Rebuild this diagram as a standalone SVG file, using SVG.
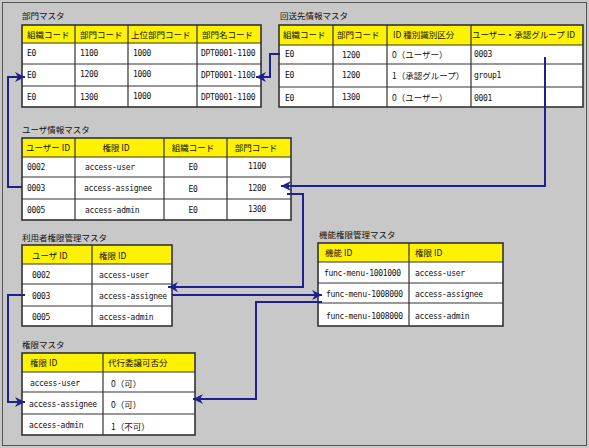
<svg xmlns="http://www.w3.org/2000/svg" width="589" height="448" viewBox="0 0 589 448">
<style>
.bg{fill:#C8C8C8}
.frame{fill:#C8C8C8;stroke:#555;stroke-width:1}
.hd{fill:#FFF200}
.cell{fill:#FFFFFF}
.grid{fill:none;stroke:#333;stroke-width:1.2}
.outer{fill:none;stroke:#333;stroke-width:1.6}
.t{font-family:"Noto Sans CJK JP","Noto Sans",sans-serif;font-size:8.5px;fill:#111}
.m{font-family:"DejaVu Sans Mono","Liberation Mono",monospace;font-size:8px;letter-spacing:-0.3px;fill:#111}
.c{text-anchor:middle}
.ttl{font-family:"Noto Sans CJK JP","Noto Sans",sans-serif;font-size:8.5px;fill:#111}
.conn{fill:none;stroke:#1F1F8F;stroke-width:2}
</style>
<defs>
<marker id="arr" markerUnits="userSpaceOnUse" markerWidth="10" markerHeight="10" viewBox="0 0 10 10" refX="10" refY="5" orient="auto">
<path d="M0,0 L10,5 L0,10 L3,5 z" fill="#1F1F8F"/>
</marker>
</defs>
<rect class="bg" x="0" y="0" width="589" height="448"/>
<rect class="frame" x="2.5" y="2.5" width="584" height="443"/>

<g id="bumon-master">
<text class="ttl" x="22" y="19">部門マスタ</text>
<rect class="hd" x="22" y="25" width="239" height="18"/>
<rect class="cell" x="22" y="43" width="239" height="64"/>
<path class="grid" d="M22,43H261M22,64H261M22,86H261M75,25V107M128,25V107M197,25V107"/>
<rect class="outer" x="22" y="25" width="239" height="82"/>
<text class="t" x="27" y="37.5">組織コード</text>
<text class="t" x="80" y="37.5">部門コード</text>
<text class="t" x="131" y="37.5">上位部門コード</text>
<text class="t" x="202" y="37.5">部門名コード</text>
<text class="m" x="27" y="56">E0</text><text class="m" x="80" y="56">1100</text><text class="m" x="133" y="56">1000</text><text class="m" x="201" y="56">DPT0001-1100</text>
<text class="m" x="27" y="78">E0</text><text class="m" x="80" y="77">1200</text><text class="m" x="133" y="77">1000</text><text class="m" x="201" y="78">DPT0001-1100</text>
<text class="m" x="27" y="100">E0</text><text class="m" x="80" y="100">1300</text><text class="m" x="133" y="99">1000</text><text class="m" x="201" y="100">DPT0001-1100</text>
</g>

<g id="kaisousaki-master">
<text class="ttl" x="280" y="19">回送先情報マスタ</text>
<rect class="hd" x="279" y="25" width="304" height="20"/>
<rect class="cell" x="279" y="45" width="304" height="62"/>
<path class="grid" d="M279,45H583M279,64H583M279,87H583M333,25V107M387,25V107M471,25V107"/>
<rect class="outer" x="279" y="25" width="304" height="82"/>
<text class="t" x="283" y="38">組織コード</text>
<text class="t" x="337" y="38">部門コード</text>
<text class="t" x="393" y="38">ID 種別識別区分</text>
<text class="t" x="472" y="38">ユーザー・承認グループ ID</text>
<text class="m" x="285" y="57">E0</text><text class="m" x="342" y="58">1200</text><text class="t" x="392" y="58">0（ユーザー）</text><text class="m" x="474" y="57">0003</text>
<text class="m" x="285" y="78">E0</text><text class="m" x="342" y="78">1200</text><text class="t" x="392" y="79">1（承認グループ）</text><text class="m" x="474" y="78">group1</text>
<text class="m" x="285" y="101">E0</text><text class="m" x="342" y="100">1300</text><text class="t" x="392" y="101">0（ユーザー）</text><text class="m" x="474" y="101">0001</text>
</g>

<g id="user-master">
<text class="ttl" x="22" y="133">ユーザ情報マスタ</text>
<rect class="hd" x="22" y="138" width="269" height="19"/>
<rect class="cell" x="22" y="157" width="269" height="63"/>
<path class="grid" d="M22,157H291M22,177H291M22,199H291M75,138V220M164,138V220M227,138V220"/>
<rect class="outer" x="22" y="138" width="269" height="82"/>
<text class="t" x="26" y="151">ユーザー ID</text>
<text class="t c" x="116" y="151">権限 ID</text>
<text class="t c" x="193" y="151">組織コード</text>
<text class="t c" x="256" y="151">部門コード</text>
<text class="m" x="27" y="170">0002</text><text class="m" x="85" y="170">access-user</text><text class="m c" x="193" y="170">E0</text><text class="m c" x="257" y="169">1100</text>
<text class="m" x="27" y="191">0003</text><text class="m" x="84" y="191">access-assignee</text><text class="m c" x="193" y="192">E0</text><text class="m c" x="257" y="191">1200</text>
<text class="m" x="27" y="213">0005</text><text class="m" x="85" y="213">access-admin</text><text class="m c" x="193" y="213">E0</text><text class="m c" x="257" y="212">1300</text>
</g>

<g id="riyousha-kengen-master">
<text class="ttl" x="22" y="241">利用者権限管理マスタ</text>
<rect class="hd" x="22" y="245" width="150" height="19"/>
<rect class="cell" x="22" y="264" width="150" height="62"/>
<path class="grid" d="M22,264H172M22,284H172M22,306H172M92,245V326"/>
<rect class="outer" x="22" y="245" width="150" height="81"/>
<text class="t" x="32" y="259">ユーザ ID</text>
<text class="t" x="99" y="259">権限 ID</text>
<text class="m" x="32" y="278">0002</text><text class="m" x="99" y="278">access-user</text>
<text class="m" x="32" y="299">0003</text><text class="m" x="99" y="299">access-assignee</text>
<text class="m" x="32" y="320">0005</text><text class="m" x="99" y="320">access-admin</text>
</g>

<g id="kinou-kengen-master">
<text class="ttl" x="319" y="238">機能権限管理マスタ</text>
<rect class="hd" x="318" y="243" width="185" height="19"/>
<rect class="cell" x="318" y="262" width="185" height="64"/>
<path class="grid" d="M318,262H503M318,283H503M318,303H503M409,243V326"/>
<rect class="outer" x="318" y="243" width="185" height="83"/>
<text class="t" x="325" y="256">機能 ID</text>
<text class="t" x="415" y="256">権限 ID</text>
<text class="m" x="324" y="276">func-menu-1001000</text><text class="m" x="415" y="276">access-user</text>
<text class="m" x="326" y="297">func-menu-1008000</text><text class="m" x="415" y="297">access-assignee</text>
<text class="m" x="326" y="319">func-menu-1008000</text><text class="m" x="415" y="319">access-admin</text>
</g>

<g id="kengen-master">
<text class="ttl" x="22" y="348">権限マスタ</text>
<rect class="hd" x="22" y="353" width="173" height="19"/>
<rect class="cell" x="22" y="372" width="173" height="63"/>
<path class="grid" d="M22,372H195M22,392H195M22,414H195M103,353V435"/>
<rect class="outer" x="22" y="353" width="173" height="82"/>
<text class="t" x="30" y="366">権限 ID</text>
<text class="t" x="108" y="366">代行委譲可否分</text>
<text class="m" x="30" y="386">access-user</text><text class="t" x="111" y="387">0（可）</text>
<text class="m" x="29" y="407">access-assignee</text><text class="t" x="111" y="408">0（可）</text>
<text class="m" x="29" y="428">access-admin</text><text class="t" x="111" y="430">1（不可）</text>
</g>

<g id="connectors">
<path class="conn" d="M280,54H270V77H256" marker-end="url(#arr)"/>
<path class="conn" d="M545,57V186H281" marker-end="url(#arr)"/>
<path class="conn" d="M22,187H8V77H25" marker-end="url(#arr)"/>
<path class="conn" d="M287,194H303V287H168" marker-end="url(#arr)"/>
<path class="conn" d="M172,295H322" marker-end="url(#arr)"/>
<path class="conn" d="M322,302H256V399H193" marker-end="url(#arr)"/>
<path class="conn" d="M25,295H8V402H25" marker-end="url(#arr)"/>
</g>
</svg>
